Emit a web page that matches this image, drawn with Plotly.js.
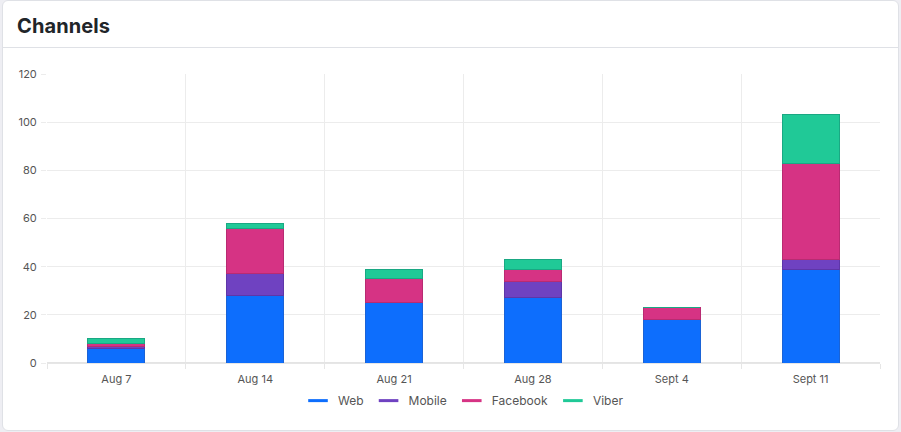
<!DOCTYPE html>
<html>
<head>
<meta charset="utf-8">
<script src="https://cdn.plot.ly/plotly-3.0.1.min.js"></script>
<style>
  html, body { margin:0; padding:0; width:901px; height:432px; background:#eeeef3; overflow:hidden; font-family: Inter, "Open Sans", sans-serif; }
  #card { position:absolute; left:2px; top:0px; width:895px; height:429px; background:#fff; border:1px solid #dfe1e6; border-radius:6px; }
  #hdr { position:absolute; left:0; top:0; width:100%; height:46px; border-bottom:1px solid #dfe1e6; }
  #hdr span { position:absolute; left:14px; top:13px; font-size:20px; font-weight:700; color:#212529; letter-spacing:0.1px; }
  #chart { position:absolute; left:0; top:0; width:901px; height:432px; }
</style>
</head>
<body>
<div id="card"><div id="hdr"><span>Channels</span></div></div>
<div id="chart"></div>
<script>
const categories = ["Aug 7", "Aug 14", "Aug 21", "Aug 28", "Sept 4", "Sept 11"];
const web      = [6, 28, 25, 27, 18, 39];
const mobile   = [1, 9, 0, 7, 0, 4];
const facebook = [1, 19, 10, 5, 5, 40];
const viber    = [2, 2, 4, 4, 0, 20];
const yTicks   = [0, 20, 40, 60, 80, 100, 120];

const seriesNames = ["Web", "Mobile", "Facebook", "Viber"];
const seriesData = [web, mobile, facebook, viber];
const colors = ["#0d6efd", "#6f42c1", "#d63384", "#20c997"];
const borders = ["#1a63d6", "#5e36a8", "#b82b72", "#1aa883"];

const traces = [];
seriesData.forEach((d, i) => {
  traces.push({
    type: "bar", x: categories, y: d, name: seriesNames[i],
    legendgroup: seriesNames[i], showlegend: false,
    marker: { color: colors[i], line: { color: borders[i], width: 1 } },
    hoverinfo: "x+y+name"
  });
});
seriesData.forEach((d, i) => {
  traces.push({
    type: "scatter", mode: "markers", x: [null], y: [null], name: seriesNames[i],
    legendgroup: seriesNames[i], showlegend: true,
    marker: { symbol: "line-ew", size: 14, color: colors[i], line: { color: colors[i], width: 3 } },
    hoverinfo: "skip"
  });
});

const layout = {
  width: 901, height: 432,
  margin: { l: 47, r: 21, t: 74, b: 69 },
  paper_bgcolor: "rgba(0,0,0,0)",
  plot_bgcolor: "rgba(0,0,0,0)",
  barmode: "stack",
  bargap: 0.59,
  font: { family: "Inter, 'Open Sans', sans-serif", size: 11, color: "#555" },
  xaxis: {
    type: "category", tickson: "boundaries", showgrid: true, gridcolor: "#ececec", gridwidth: 1,
    ticks: "outside", ticklen: 5, tickcolor: "#e6e6e6", showline: true, linecolor: "#e6e6e6",
    ticklabelstandoff: 6,
    tickfont: { size: 11, color: "#555" }, fixedrange: true
  },
  yaxis: {
    range: [0, 120], tickvals: yTicks, ticktext: yTicks.map(String), showgrid: true, gridcolor: "#ececec",
    zeroline: true, zerolinecolor: "#e4e4e4", zerolinewidth: 2,
    ticks: "outside", ticklen: 5, tickcolor: "#ececec", ticklabelstandoff: 2,
    tickfont: { size: 11, color: "#555" }, fixedrange: true
  },
  legend: {
    orientation: "h", x: 0.5, xanchor: "center", y: -0.08, yanchor: "top",
    font: { size: 12, color: "#555" }, itemwidth: 30, tracegroupgap: 0
  },
  showlegend: true
};

Plotly.newPlot("chart", traces, layout, { displayModeBar: false, staticPlot: false });
</script>
</body>
</html>
